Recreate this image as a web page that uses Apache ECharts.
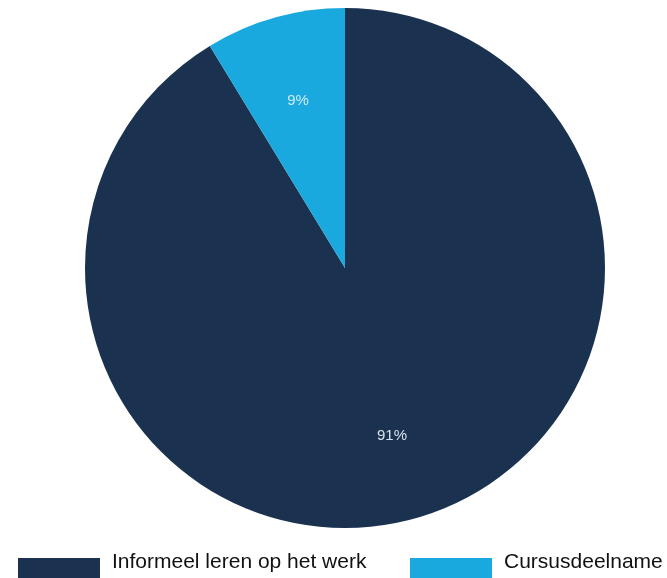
<!DOCTYPE html>
<html><head><meta charset="utf-8">
<script src="https://cdn.jsdelivr.net/npm/echarts@6/dist/echarts.min.js"></script>
<style>html,body{margin:0;padding:0;background:#fff}#c{width:667px;height:578px}</style>
</head><body><div id="c"></div>
<script>
const categories = ['Informeel leren op het werk', 'Cursusdeelname'];
const values = [91.3, 8.7];
const colors = ['#1a324f', '#1aa9de'];
const labelColors = ['#d8e2ee', '#cdeaf8'];
const legendX = [18, 410];

const chart = echarts.init(document.getElementById('c'), null, {renderer: 'canvas'});
const data = categories.map((n, i) => ({name: n, value: values[i], itemStyle: {color: colors[i]}}));
const legendGraphics = [];
categories.forEach((n, i) => {
  legendGraphics.push({type: 'rect', left: legendX[i], top: 558, shape: {width: 82, height: 24}, style: {fill: colors[i]}, silent: true});
  legendGraphics.push({type: 'text', x: legendX[i] + 94, y: 562, style: {text: n, fill: '#111', font: '21px "Liberation Sans", Arial', textVerticalAlign: 'middle', verticalAlign: 'middle'}, silent: true});
});
chart.setOption({
  animation: false,
  graphic: legendGraphics,
  series: [{
    type: 'pie', center: [345, 268], radius: [0, 260], startAngle: 90, clockwise: true,
    label: {show: false}, labelLine: {show: false}, silent: true,
    data: data
  }, {
    type: 'pie', center: [345, 268], radius: [146, 196], startAngle: 90, clockwise: true,
    silent: true, labelLine: {show: false},
    label: {show: true, position: 'inside', fontFamily: 'Liberation Sans, Arial', fontSize: 15,
      formatter: p => Math.round(p.value) + '%'},
    data: categories.map((n, i) => ({name: n, value: values[i], itemStyle: {color: 'rgba(0,0,0,0)'}, label: {color: labelColors[i]}}))
  }]
});
</script></body></html>
